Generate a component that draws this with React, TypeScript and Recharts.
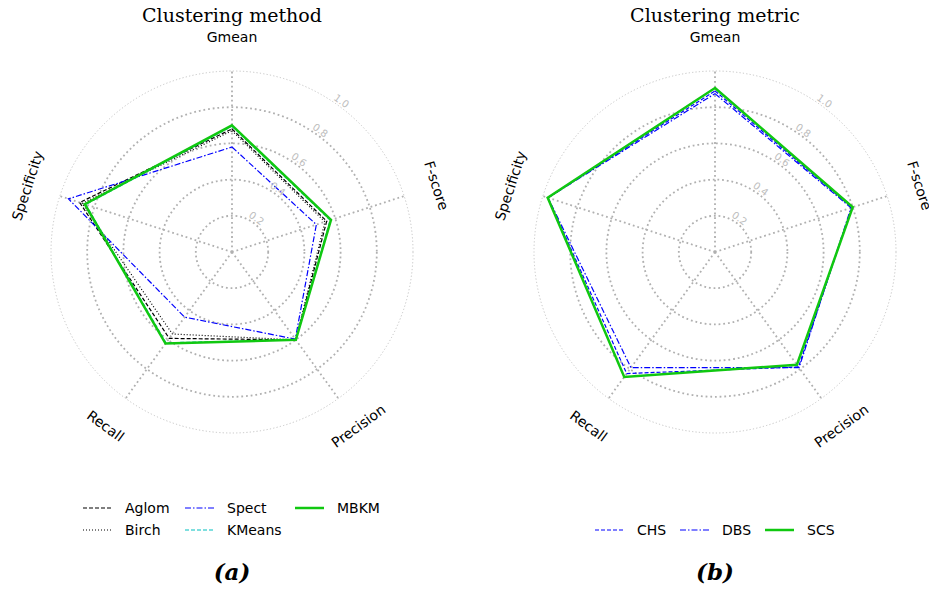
import { RadarChart, PolarGrid, PolarAngleAxis, PolarRadiusAxis, Radar } from 'recharts';

const metrics = ['Gmean', 'F-score', 'Precision', 'Recall', 'Specificity'];
const radiusTicks = [0.2, 0.4, 0.6, 0.8, 1.0];

// (a) clustering methods
const aglom = [0.68, 0.55, 0.6, 0.59, 0.885];
const birch = [0.67, 0.54, 0.6, 0.56, 0.87];
const spect = [0.58, 0.49, 0.595, 0.445, 0.95];
const kmeans = [0.695, 0.57, 0.6, 0.62, 0.85];
const mbkm = [0.7, 0.575, 0.6, 0.625, 0.855];

// (b) clustering metrics
const chs = [0.89, 0.795, 0.785, 0.83, 0.97];
const dbs = [0.875, 0.79, 0.79, 0.79, 0.97];
const scs = [0.906, 0.8, 0.77, 0.853, 0.972];

type Series = { name: string; values: number[]; color: string; dash?: string; width: number };

const methodSeries: Series[] = [
  { name: 'Aglom', values: aglom, color: '#000000', dash: '4 2', width: 1.2 },
  { name: 'Birch', values: birch, color: '#000000', dash: '1 2', width: 1.2 },
  { name: 'Spect', values: spect, color: '#0000ff', dash: '6 2 1.5 2', width: 1.2 },
  { name: 'KMeans', values: kmeans, color: '#00bfbf', dash: '4 2', width: 1.2 },
  { name: 'MBKM', values: mbkm, color: '#10c810', width: 2.5 },
];

const metricSeries: Series[] = [
  { name: 'CHS', values: chs, color: '#0000ff', dash: '4 2', width: 1.2 },
  { name: 'DBS', values: dbs, color: '#0000ff', dash: '6 2 1.5 2', width: 1.2 },
  { name: 'SCS', values: scs, color: '#10c810', width: 2.5 },
];

const R = 181;
const CX = 232;
const CY = 252;
const serif = '"DejaVu Serif", serif';
const sans = '"DejaVu Sans", sans-serif';

function toRows(series: Series[]) {
  return metrics.map((m, i) => {
    const row: Record<string, string | number> = { metric: m };
    series.forEach((s) => (row[s.name] = s.values[i]));
    return row;
  });
}

function AngleTick(props: any) {
  const { x, y, payload } = props;
  let rot = 90 - payload.coordinate;
  while (rot > 90) rot -= 180;
  while (rot < -90) rot += 180;
  return (
    <text
      x={x}
      y={y}
      textAnchor="middle"
      dominantBaseline="central"
      fontSize={14}
      fontFamily={sans}
      fill="#000"
      transform={`rotate(${rot}, ${x}, ${y})`}
    >
      {payload.value}
    </text>
  );
}

function RadiusTick(props: any) {
  const { x, y, payload } = props;
  if (!payload.value) return <g />;
  return (
    <text
      x={x}
      y={y}
      dy={-2}
      textAnchor="middle"
      fontSize={10}
      fontFamily={sans}
      fill="#bdbdbd"
      transform={`rotate(36, ${x}, ${y})`}
    >
      {Number(payload.value).toFixed(1)}
    </text>
  );
}

function LegendKey({ s }: { s: Series }) {
  return (
    <div style={{ display: 'flex', alignItems: 'center', height: 22 }}>
      <svg width={42} height={10}>
        <line x1={0} y1={5} x2={29} y2={5} stroke={s.color} strokeWidth={s.width} strokeDasharray={s.dash} />
      </svg>
      <span style={{ fontFamily: sans, fontSize: 14 }}>{s.name}</span>
    </div>
  );
}

function RadarPanel({
  left,
  title,
  tag,
  series,
  legendLeft,
  legendTop,
  columns,
}: {
  left: number;
  title: string;
  tag: string;
  series: Series[];
  legendLeft: number;
  legendTop: number;
  columns: { items: string[]; width: number }[];
}) {
  const rows = toRows(series);
  return (
    <div style={{ position: 'absolute', left, top: 0, width: 464, height: 592 }}>
      <div
        style={{
          position: 'absolute',
          top: 4,
          left: 0,
          width: 464,
          textAlign: 'center',
          fontFamily: serif,
          fontSize: 19,
        }}
      >
        {title}
      </div>
      <RadarChart
        width={464}
        height={592}
        cx={CX}
        cy={CY}
        outerRadius={R}
        data={rows}
        margin={{ top: 0, right: 0, bottom: 0, left: 0 }}
      >
        <PolarGrid
          gridType="circle"
          polarRadius={radiusTicks.slice(0, -1).map((t) => t * R)}
          stroke="#b0b0b0"
          strokeWidth={1.8}
          strokeDasharray="1.8 2.9"
        />
        <PolarGrid
          gridType="circle"
          radialLines={false}
          polarRadius={[R]}
          stroke="#c4c4c4"
          strokeWidth={1}
          strokeDasharray="1.2 2.2"
        />
        <PolarAngleAxis dataKey="metric" axisLine={false} tickLine={false} tickSize={34} tick={AngleTick} />
        <PolarRadiusAxis
          angle={54}
          type="number"
          domain={[0, 1]}
          ticks={radiusTicks as any}
          tickCount={6}
          axisLine={false}
          tickLine={false}
          tick={RadiusTick}
        />
        {series.map((s) => (
          <Radar
            key={s.name}
            dataKey={s.name}
            stroke={s.color}
            strokeWidth={s.width}
            strokeDasharray={s.dash}
            fill="none"
            fillOpacity={0}
            dot={false}
            isAnimationActive={false}
          />
        ))}
      </RadarChart>
      <div style={{ position: 'absolute', left: legendLeft, top: legendTop, display: 'flex' }}>
        {columns.map((col, ci) => (
          <div key={ci} style={{ width: col.width }}>
            {col.items.map((n) => (
              <LegendKey key={n} s={series.find((s) => s.name === n)!} />
            ))}
          </div>
        ))}
      </div>
      <div
        style={{
          position: 'absolute',
          top: 558,
          left: 0,
          width: 464,
          textAlign: 'center',
          fontFamily: serif,
          fontSize: 23,
          fontStyle: 'italic',
          fontWeight: 'bold',
        }}
      >
        {tag}
      </div>
    </div>
  );
}

export default function App() {
  return (
    <div style={{ position: 'absolute', left: 0, top: 0, width: 929, height: 592, background: '#fff' }}>
      <RadarPanel
        left={0}
        title="Clustering method"
        tag="(a)"
        series={methodSeries}
        legendLeft={83}
        legendTop={497}
        columns={[
          { items: ['Aglom', 'Birch'], width: 102 },
          { items: ['Spect', 'KMeans'], width: 110 },
          { items: ['MBKM'], width: 100 },
        ]}
      />
      <RadarPanel
        left={483}
        title="Clustering metric"
        tag="(b)"
        series={metricSeries}
        legendLeft={112}
        legendTop={519}
        columns={[
          { items: ['CHS'], width: 85 },
          { items: ['DBS'], width: 85 },
          { items: ['SCS'], width: 80 },
        ]}
      />
    </div>
  );
}
